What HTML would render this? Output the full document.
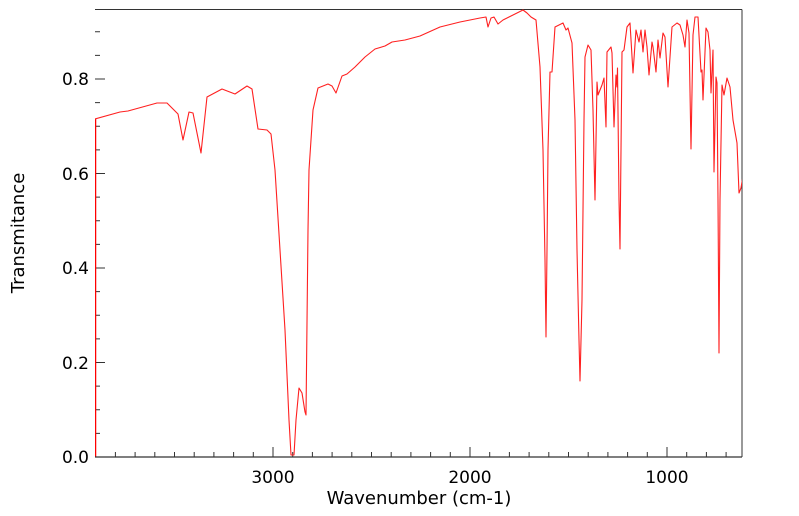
<!DOCTYPE html>
<html><head><meta charset="utf-8"><style>
html,body{margin:0;padding:0;background:#fff;}
svg{display:block;}
text{font-family:"DejaVu Sans","Liberation Sans",sans-serif;fill:#000;}
</style></head><body>
<svg width="799" height="516" viewBox="0 0 799 516" xmlns="http://www.w3.org/2000/svg">
<defs><clipPath id="c"><rect x="95" y="9" width="647" height="449"/></clipPath></defs>
<g stroke="#333" stroke-width="1">
<line x1="95" y1="9.5" x2="742" y2="9.5"/>
<line x1="742" y1="9.5" x2="742" y2="457"/>
</g>
<path stroke="#333" stroke-width="1" fill="none" d="
M115.4 457v-5M135.1 457v-5M154.8 457v-5M174.5 457v-5M194.2 457v-5M213.9 457v-5M233.6 457v-5M253.3 457v-5M273 457v-10M292.7 457v-5M312.4 457v-5M332.1 457v-5M351.8 457v-5M371.5 457v-5M391.2 457v-5M410.9 457v-5M430.6 457v-5M450.3 457v-5M470 457v-10M489.7 457v-5M509.4 457v-5M529.1 457v-5M548.8 457v-5M568.5 457v-5M588.2 457v-5M607.9 457v-5M627.6 457v-5M647.3 457v-5M667 457v-10M686.7 457v-5M706.4 457v-5M726.1 457v-5
M95 433.4h5M95 409.8h5M95 386.1h5M95 362.5h10M95 338.9h5M95 315.3h5M95 291.6h5M95 268h10M95 244.4h5M95 220.8h5M95 197.1h5M95 173.5h10M95 149.9h5M95 126.3h5M95 102.6h5M95 79h10M95 55.4h5M95 31.8h5"/>
<g clip-path="url(#c)">
<line x1="95.5" y1="457" x2="95.5" y2="119" stroke="#ff0000" stroke-width="1.5"/>
<polyline fill="none" stroke="#ff2020" stroke-width="1.1" stroke-linejoin="round" points="
95,119 120,112 128,111 157,103 167,103 178,114 183,140 189,112 193,113 201,153 207,97 222,89 235,94 247,86 252,89 258,129 267,130 271,134 275,170 280,250 285,330 289,420 291,455 294,455 296,420 299,388 302,393 305,412 306,415 308,230 309,170 313,110 318,88 328,84 332,86 336,93 342,76 347,74 355,67 365,57 375,49 385,46 392,42 405,40 420,36 440,27 460,22 480,18 486,17 488,27 491,18 494,17 498,24 503,20 515,14 523,10 527,13 531,17 536,20 540,67 543,150 545,260 546,337 547,250 548,150 550,72 552,72 555,27 563,23 566,30 568,28 572,43 575,120 577,250 579,340 580,381 582,300 584,120 585,57 588,45 591,50 593,110 595,200 597,82 598,95 602,85 604,78 606,127 607,52 611,47 612,53 614,127 616,75 617,87 617.5,68 619,200 620,249 621,150 622,52 624,50 627,27 630,23 633,73 636,30 639,42 641,30 643,52 645,30 647,47 649,75 652,42 653,47 656,72 658,40 660,58 663,33 665,37 668,87 672,27 677,23 680,25 683,35 685,47 687,20 689,33 691,149 693,35 695,17 698,17 701,72 702,70 703,100 706,28 708,32 710,50 711,93 713,50 714,172 716,77 717,83 718,200 719,353 720,200 722,85 724,95 727,78 730,87 733,120 737,143 739,193 741,188 744,170"/>
</g>
<line x1="95" y1="457" x2="742" y2="457" stroke="#333" stroke-width="1.2"/>
<g font-size="17" text-anchor="end">
<text x="89" y="463">0.0</text>
<text x="89" y="369">0.2</text>
<text x="89" y="274">0.4</text>
<text x="89" y="180">0.6</text>
<text x="89" y="85">0.8</text>
</g>
<g font-size="17" text-anchor="middle">
<text x="273" y="483">3000</text>
<text x="470" y="483">2000</text>
<text x="667" y="483">1000</text>
<text x="419" y="504" font-size="18">Wavenumber (cm-1)</text>
<text transform="translate(24,233) rotate(-90)" font-size="18">Transmitance</text>
</g>
</svg>
</body></html>
